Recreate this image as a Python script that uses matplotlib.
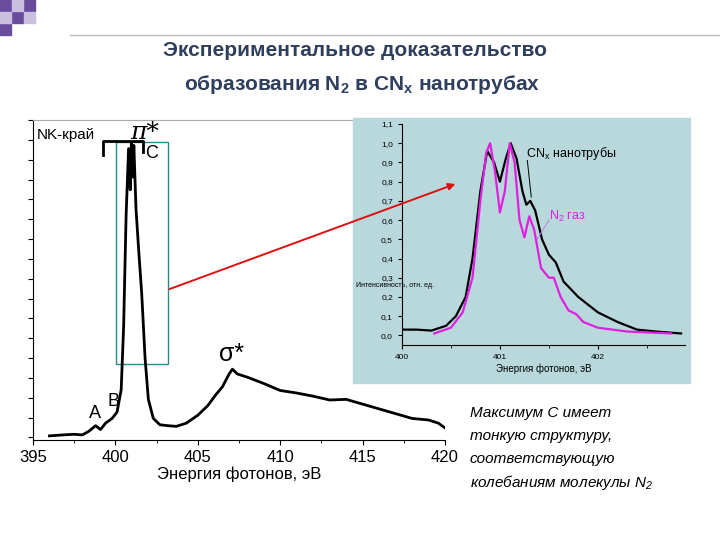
import numpy as np
import matplotlib.pyplot as plt
from matplotlib.ticker import MultipleLocator, NullFormatter
from matplotlib.patches import Rectangle, FancyArrowPatch

plt.rcParams['mathtext.default'] = 'regular'
plt.rcParams['font.family'] = ['Liberation Sans', 'DejaVu Sans']

# main NK-edge spectrum
e_main = [396.0, 396.8, 397.5, 398.0, 398.4, 398.8, 399.1, 399.4, 399.8, 400.1, 400.35, 400.5,
          400.65, 400.8, 400.9, 400.97, 401.05, 401.12, 401.25, 401.4, 401.6, 401.8, 402.0,
          402.3, 402.7, 403.2, 403.7, 404.3, 405.0, 405.6, 406.1, 406.5, 406.9, 407.1,
          407.4, 408.0, 409.0, 410.0, 411.0, 412.0, 413.0, 414.0, 415.0, 416.0, 417.0,
          418.0, 419.0, 419.6, 420.0]
i_main = [0.005, 0.008, 0.01, 0.008, 0.02, 0.037, 0.025, 0.045, 0.06, 0.08, 0.15, 0.35,
          0.7, 0.91, 0.78, 0.93, 0.82, 0.92, 0.72, 0.6, 0.45, 0.25, 0.12,
          0.06, 0.04, 0.037, 0.035, 0.045, 0.07, 0.1, 0.135, 0.16, 0.2, 0.215,
          0.2, 0.19, 0.17, 0.148, 0.14, 0.13, 0.118, 0.12, 0.105, 0.09, 0.075,
          0.06, 0.055, 0.045, 0.03]

# inset pi* region
e_cnx = [400.0, 400.15, 400.3, 400.45, 400.55, 400.65, 400.72, 400.8, 400.87, 400.94, 401.0,
         401.06, 401.11, 401.17, 401.23, 401.27, 401.31, 401.36, 401.43, 401.5, 401.57,
         401.65, 401.8, 402.0, 402.2, 402.4, 402.6, 402.85]
i_cnx = [0.03, 0.03, 0.025, 0.05, 0.1, 0.2, 0.4, 0.75, 0.96, 0.9, 0.8, 0.92, 1.0, 0.92,
         0.75, 0.68, 0.7, 0.65, 0.5, 0.42, 0.38, 0.28, 0.2, 0.12, 0.07, 0.03, 0.02, 0.01]
e_n2 = [400.33, 400.5, 400.62, 400.72, 400.8, 400.86, 400.9, 400.95, 401.0, 401.05, 401.1,
        401.15, 401.2, 401.25, 401.3, 401.35, 401.42, 401.5, 401.55, 401.62, 401.7,
        401.78, 401.85, 402.0, 402.3, 402.75]
i_n2 = [0.01, 0.04, 0.12, 0.3, 0.7, 0.95, 1.0, 0.85, 0.64, 0.75, 1.0, 0.9, 0.6, 0.51,
        0.62, 0.55, 0.35, 0.3, 0.3, 0.2, 0.13, 0.11, 0.07, 0.04, 0.02, 0.01]

note_lines = ['Максимум С имеет', 'тонкую структуру,', 'соответствующую',
              'колебаниям молекулы N$_2$']

fig = plt.figure(figsize=(7.2, 5.4), dpi=100)

# slide decoration
for (x, y, c) in [(0, 0, '#6a4c9c'), (12, 12, '#6a4c9c'), (24, 0, '#6a4c9c'), (0, 24, '#6a4c9c'),
                  (12, 0, '#c9c0df'), (0, 12, '#c9c0df'), (24, 12, '#c9c0df')]:
    fig.patches.append(Rectangle((x / 720, 1 - (y + 11) / 540), 11 / 720, 11 / 540,
                                 transform=fig.transFigure, color=c))
fig.add_artist(plt.Line2D([70 / 720, 1], [1 - 35 / 540] * 2, color='#bbbbbb', lw=1))
fig.text(355 / 720, 1 - 50 / 540, 'Экспериментальное доказательство',
         ha='center', va='center', fontsize=15, fontweight='bold', color='#2e3e5c')
fig.text(362 / 720, 1 - 85 / 540, 'образования N$_2$ в CN$_x$ нанотрубах',
         ha='center', va='center', fontsize=15, fontweight='bold', color='#2e3e5c')

ax = fig.add_axes([33 / 720, 100 / 540, 412 / 720, 320 / 540])
ax.plot(e_main, i_main, color='black', lw=2)
ax.set_xlim(395, 420)
ax.set_ylim(-0.008, 1.0)
ax.xaxis.set_major_locator(MultipleLocator(5))
ax.xaxis.set_minor_locator(MultipleLocator(2.5))
ax.yaxis.set_major_locator(MultipleLocator(0.0625))
ax.yaxis.set_major_formatter(NullFormatter())
ax.tick_params(labelsize=12)
ax.spines['right'].set_visible(False)
ax.spines['top'].set_color('#aaaaaa')
ax.set_xlabel('Энергия фотонов, эВ', fontsize=12, labelpad=1)
ax.text(395.2, 0.975, 'NK-край', fontsize=11, va='top')
ax.text(400.9, 0.94, 'π*', fontsize=18, fontfamily='DejaVu Serif', style='italic')
ax.plot([399.25, 399.25, 401.7, 401.7], [0.89, 0.935, 0.935, 0.9], color='black', lw=2)
ax.text(401.8, 0.88, 'C', fontsize=13)
ax.text(406.3, 0.24, 'σ*', fontsize=18)
ax.text(398.4, 0.06, 'A', fontsize=13)
ax.text(399.55, 0.1, 'B', fontsize=13)
ax.add_patch(Rectangle((400.05, 0.23), 3.15, 0.70, fill=False, edgecolor='#2a8a8a', lw=1))

# inset panel
fig.patches.append(Rectangle((353 / 720, 1 - 383 / 540), 337 / 720, 265 / 540,
                             transform=fig.transFigure, color='#b8d8dc', zorder=2))
ins = fig.add_axes([402 / 720, 195 / 540, 283 / 720, 221 / 540])
ins.set_zorder(3)
ins.patch.set_alpha(0)
ins.plot(e_cnx, i_cnx, color='black', lw=1.6)
ins.plot(e_n2, i_n2, color='#e020e0', lw=1.6)
ins.set_xlim(400, 402.89)
ins.set_ylim(-0.05, 1.1)
ins.xaxis.set_major_locator(MultipleLocator(1))
ins.xaxis.set_minor_locator(MultipleLocator(0.5))
ins.set_yticks(np.arange(0, 1.11, 0.1))
ins.set_yticklabels([f'{v:.1f}'.replace('.', ',') for v in np.arange(0, 1.11, 0.1)])
ins.tick_params(labelsize=6, length=3)
ins.spines['right'].set_visible(False)
ins.spines['top'].set_visible(False)
ins.set_xlabel('Энергия фотонов, эВ', fontsize=7, labelpad=2)
ins.text(401.27, 0.93, 'CN$_x$ нанотрубы', fontsize=9)
ins.plot([401.28, 401.32], [0.91, 0.72], color='black', lw=0.7)
ins.text(401.5, 0.6, 'N$_2$ газ', fontsize=9, color='#e020e0')
ins.plot([401.5, 401.38], [0.6, 0.5], color='#c080e0', lw=0.7)
fig.text(356 / 720, 1 - 287 / 540, 'Интенсивность, отн. ед.', fontsize=5, zorder=4)

fig.add_artist(FancyArrowPatch((167 / 720, 1 - 290 / 540), (458 / 720, 1 - 183 / 540),
                               transform=fig.transFigure, arrowstyle='-|>',
                               mutation_scale=10, color='#dd1111', lw=1.4, zorder=5))

for k, line in enumerate(note_lines):
    fig.text(470 / 720, 1 - (413 + 23 * k) / 540, line,
             fontsize=11, style='italic', va='center')

fig.savefig('out.png', dpi=100)
